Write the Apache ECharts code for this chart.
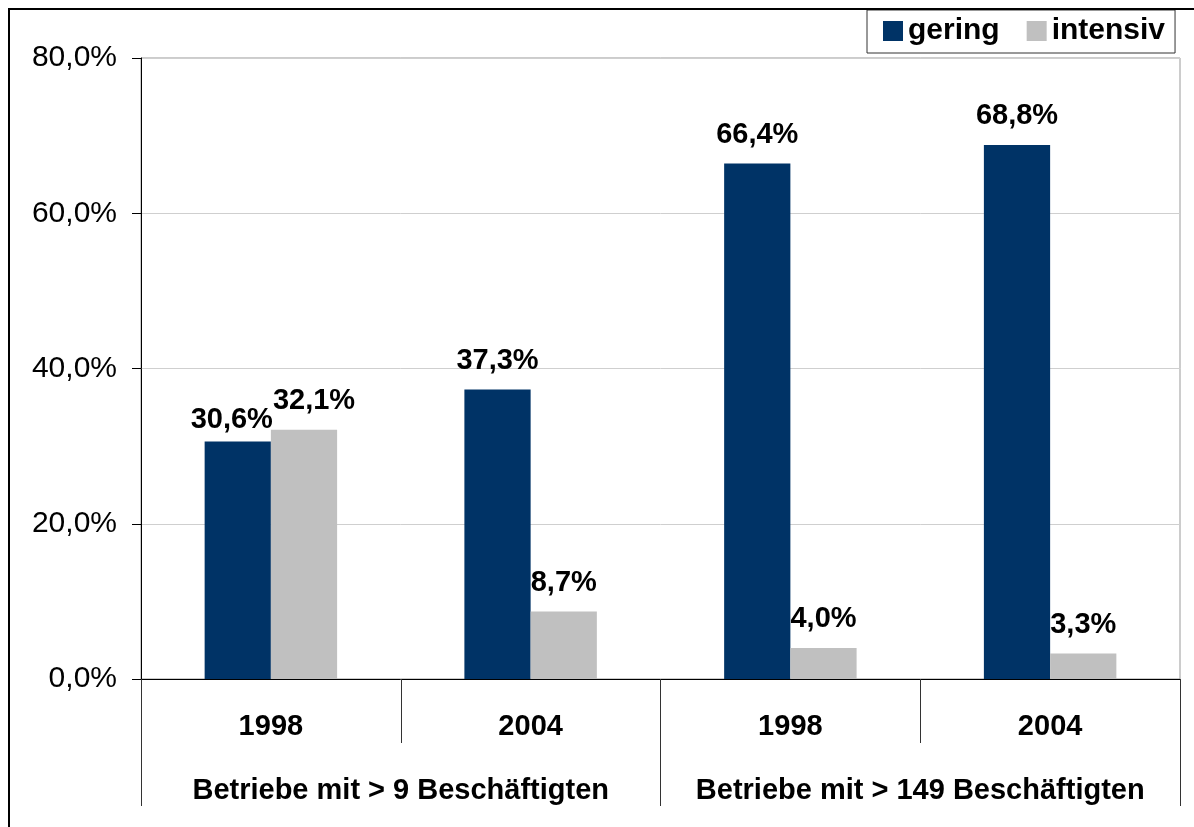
<!DOCTYPE html>
<html>
<head>
<meta charset="utf-8">
<script src="https://cdn.jsdelivr.net/npm/echarts@6/dist/echarts.min.js"></script>
<style>
html,body{margin:0;padding:0;background:#fff;}
#c{width:1194px;height:827px;}
</style>
</head>
<body>
<div id="c"></div>
<script>
var years = ["1998", "2004", "1998", "2004"];
var groups = ["Betriebe mit > 9 Beschäftigten", "Betriebe mit > 149 Beschäftigten"];
var seriesNames = ["gering", "intensiv"];
var gering = [30.6, 37.3, 66.4, 68.8];
var intensiv = [32.1, 8.7, 4.0, 3.3];
var yTicks = [0, 20, 40, 60, 80];

var FONT = "'Liberation Sans', Arial, sans-serif";
function pct(v){ return v.toFixed(1).replace('.', ',') + '%'; }

var geringData = gering.map(function(v, i){
  return i === 0 ? {value: v, label: {offset: [-6, 7]}} : v;
});
var intensivData = intensiv.map(function(v, i){
  return i === 0 ? {value: v, label: {offset: [10, 0]}} : v;
});

var labelStyle = {
  show: true, position: 'top', distance: 14,
  color: '#000', fontFamily: FONT, fontWeight: 'bold', fontSize: 29,
  formatter: function(p){ return pct(p.value); }
};

var chart = echarts.init(document.getElementById('c'), null, {renderer: 'canvas'});
chart.setOption({
  animation: false,
  backgroundColor: '#fff',
  textStyle: {fontFamily: FONT},
  graphic: [{
    type: 'rect', z: 100, silent: true,
    shape: {x: 9, y: 9, width: 1200, height: 830},
    style: {fill: 'none', stroke: '#000', lineWidth: 2}
  }],
  legend: {
    left: 867, top: 10,
    data: seriesNames,
    icon: 'rect', itemWidth: 20, itemHeight: 20, itemGap: 27,
    padding: [6, 10, 7, 16],
    borderColor: '#333', borderWidth: 1,
    textStyle: {fontFamily: FONT, fontWeight: 'bold', fontSize: 30, color: '#000'}
  },
  grid: {
    left: 141, right: 14, top: 58, bottom: 148,
    show: true, borderColor: '#999', borderWidth: 1, backgroundColor: 'transparent'
  },
  xAxis: [{
    type: 'category', data: years, position: 'bottom',
    axisLine: {show: true, lineStyle: {color: '#000', width: 1}},
    axisTick: {show: true, length: 64, interval: 0, lineStyle: {color: '#333'}},
    axisLabel: {interval: 0, margin: 33, color: '#000', fontFamily: FONT, fontWeight: 'bold', fontSize: 29}
  }, {
    type: 'category', data: groups, position: 'bottom',
    axisLine: {show: false},
    axisTick: {show: true, length: 127, interval: 0, lineStyle: {color: '#333'}},
    axisLabel: {interval: 0, margin: 97, color: '#000', fontFamily: FONT, fontWeight: 'bold', fontSize: 29}
  }],
  yAxis: {
    type: 'value', min: yTicks[0], max: yTicks[yTicks.length - 1], interval: 20,
    axisLine: {show: true, lineStyle: {color: '#000', width: 1}},
    axisTick: {show: true, length: 9, lineStyle: {color: '#000'}},
    splitLine: {show: true, lineStyle: {color: '#cfcfcf', width: 1}},
    axisLabel: {margin: 24, color: '#000', fontFamily: FONT, fontSize: 30, formatter: function(v){ return pct(v); }}
  },
  series: [{
    name: seriesNames[0], type: 'bar', xAxisIndex: 0,
    data: geringData, barCategoryGap: '49%', barGap: '0%',
    itemStyle: {color: '#003366'},
    label: labelStyle
  }, {
    name: seriesNames[1], type: 'bar', xAxisIndex: 0,
    data: intensivData, barCategoryGap: '49%', barGap: '0%',
    itemStyle: {color: '#c0c0c0'},
    label: labelStyle
  }]
});
</script>
</body>
</html>
